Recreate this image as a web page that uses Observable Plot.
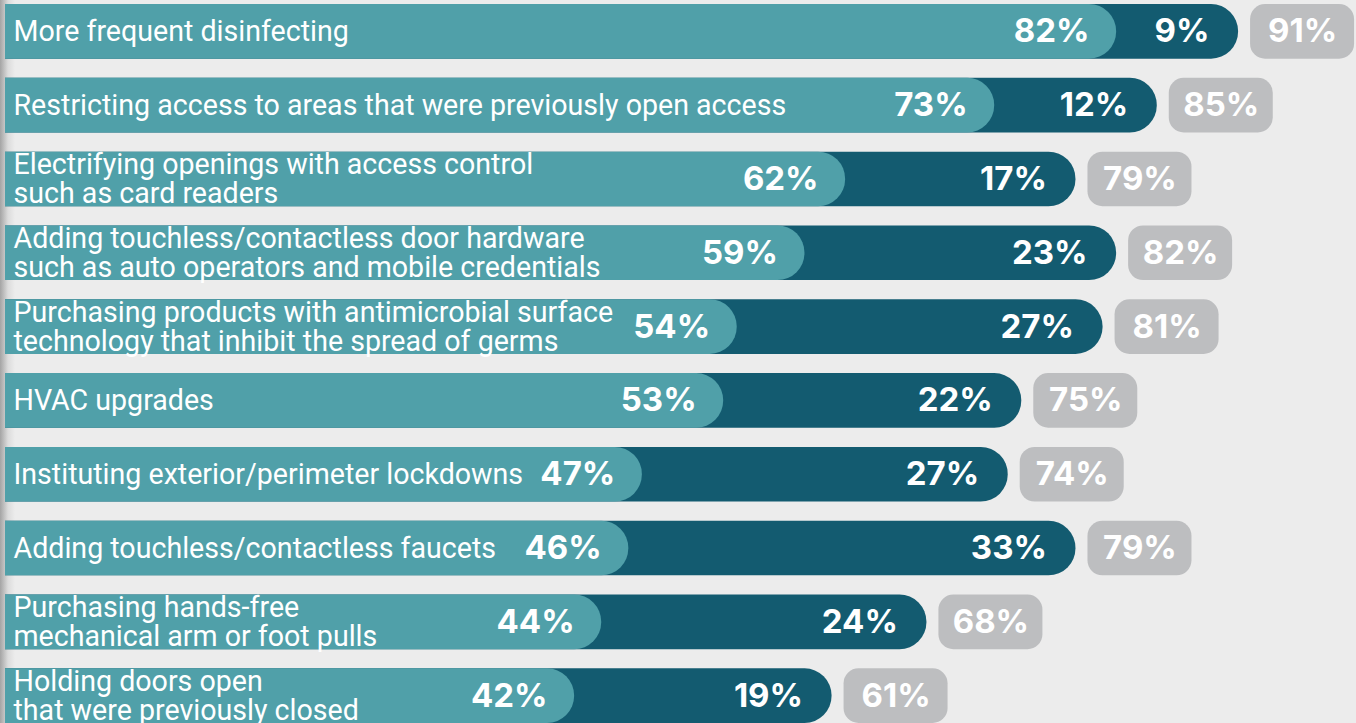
<!DOCTYPE html>
<html>
<head>
<meta charset="utf-8">
<script src="https://cdn.jsdelivr.net/npm/d3@7"></script>
<script src="https://cdn.jsdelivr.net/npm/@observablehq/plot@0.6"></script>
<style>
  html, body { margin: 0; padding: 0; background: #ececec; overflow: hidden; }
  #chart svg { display: block; }
  g[aria-label="pct"] text { letter-spacing: 0.8px; }
</style>
</head>
<body>
<div id="chart"></div>
<script>
const categories = [
  "More frequent disinfecting",
  "Restricting access to areas that were previously open access",
  "Electrifying openings with access control\nsuch as card readers",
  "Adding touchless/contactless door hardware\nsuch as auto operators and mobile credentials",
  "Purchasing products with antimicrobial surface\ntechnology that inhibit the spread of germs",
  "HVAC upgrades",
  "Instituting exterior/perimeter lockdowns",
  "Adding touchless/contactless faucets",
  "Purchasing hands-free\nmechanical arm or foot pulls",
  "Holding doors open\nthat were previously closed"
];
const implemented = [82, 73, 62, 59, 54, 53, 47, 46, 44, 42];
const planned = [9, 12, 17, 23, 27, 22, 27, 33, 24, 19];
const totals = [91, 85, 79, 82, 81, 75, 74, 79, 68, 61];

const data = categories.map((c, i) => ({
  category: c, implemented: implemented[i], planned: planned[i], total: totals[i]
}));

const LIGHT = "#50a0a9", DARK = "#135b70", GRAY = "#bdbec0";
const pctFont = "Inter, 'Open Sans', sans-serif";
const labelFont = "Roboto, 'Open Sans', sans-serif";

const chart = Plot.plot({
  width: 1356,
  height: 723,
  marginTop: 4,
  marginBottom: 0,
  marginLeft: 5,
  marginRight: 6,
  style: {
    background: "linear-gradient(to right, #a4a4a4 0px, #dcdcdc 8px, #ececec 15px)",
    fontFamily: labelFont
  },
  x: { domain: [0, 99.26], axis: null },
  y: { domain: categories, axis: null, paddingInner: 0.26, paddingOuter: 0, round: false },
  marks: [
    Plot.barX(data, { x: "total", y: "category", fill: DARK, rx: 27, insetLeft: -40, clip: "frame" }),
    Plot.barX(data, { x: "implemented", y: "category", fill: LIGHT, rx: 27, insetLeft: -40, clip: "frame" }),
    Plot.barX(data, { x1: "total", x2: "total", y: "category", fill: GRAY, rx: 15, insetLeft: 12, insetRight: -116 }),
    Plot.text(data, {
      y: "category", text: "category", frameAnchor: "left", dx: 8, textAnchor: "start",
      fill: "white", fontSize: 28.6, lineHeight: 1.0, fontFamily: labelFont
    }),
    Plot.text(data, {
      x: "implemented", y: "category", text: d => d.implemented + "%", textAnchor: "end", dx: -27,
      fill: "white", fontSize: 33, fontWeight: 700, fontFamily: pctFont, ariaLabel: "pct"
    }),
    Plot.text(data, {
      x: "total", y: "category", text: d => d.planned + "%", textAnchor: "end", dx: -29,
      fill: "white", fontSize: 33, fontWeight: 700, fontFamily: pctFont, ariaLabel: "pct"
    }),
    Plot.text(data, {
      x: "total", y: "category", text: d => d.total + "%", textAnchor: "middle", dx: 64,
      fill: "white", fontSize: 33, fontWeight: 700, fontFamily: pctFont, ariaLabel: "pct"
    })
  ]
});
document.getElementById("chart").appendChild(chart);
</script>
</body>
</html>
